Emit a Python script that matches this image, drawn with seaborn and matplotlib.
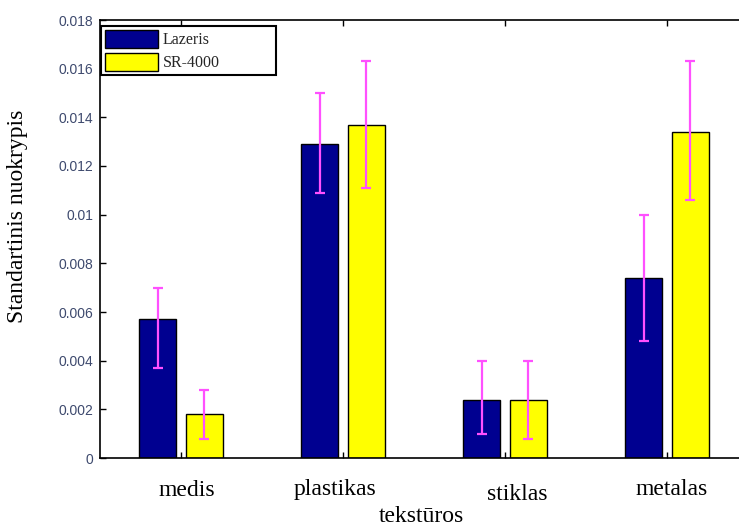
import matplotlib
matplotlib.use("Agg")
import matplotlib.pyplot as plt
import matplotlib.transforms as mtransforms
import seaborn as sns
import pandas as pd
import numpy as np

categories = ["medis", "plastikas", "stiklas", "metalas"]
series = ["Lazeris", "SR-4000"]
lazeris = [0.0057, 0.0129, 0.0024, 0.0074]
sr4000 = [0.0018, 0.0137, 0.0024, 0.0134]
lazeris_low = [0.0037, 0.0109, 0.0010, 0.0048]
lazeris_high = [0.0070, 0.0150, 0.0040, 0.0100]
sr4000_low = [0.0008, 0.0111, 0.0008, 0.0106]
sr4000_high = [0.0028, 0.0163, 0.0040, 0.0163]
yticks = [0, 0.002, 0.004, 0.006, 0.008, 0.01, 0.012, 0.014, 0.016, 0.018]
ytick_labels = ["0", "0.002", "0.004", "0.006", "0.008", "0.01", "0.012", "0.014", "0.016", "0.018"]

df = pd.DataFrame({
    "cat": categories * 2,
    "series": [series[0]] * 4 + [series[1]] * 4,
    "val": lazeris + sr4000,
})

sns.set_theme(style="ticks")
plt.rcParams["font.family"] = ["DejaVu Sans"]

fig = plt.figure(figsize=(7.39, 5.30), dpi=100)
ax = fig.add_axes([100 / 739, 72 / 530, 648 / 739, 438 / 530])

sns.barplot(data=df, x="cat", y="val", hue="series", order=categories,
            hue_order=series, palette=["#000090", "#ffff00"],
            width=0.573, gap=0.2, edgecolor="black", linewidth=1.0,
            saturation=1, errorbar=None, ax=ax)

lows = [lazeris_low, sr4000_low]
highs = [lazeris_high, sr4000_high]
vals = [lazeris, sr4000]
for cont, lo, hi, v in zip(ax.containers, lows, highs, vals):
    xs = [b.get_x() + b.get_width() / 2 for b in cont]
    v = np.array(v)
    yerr = [v - np.array(lo), np.array(hi) - v]
    ax.errorbar(xs, v, yerr=yerr, fmt="none", ecolor="#ff50ff",
                elinewidth=1.6, capsize=3.5, capthick=1.6, zorder=5)

ax.set_xlim(-0.5, 3.5)
ax.set_ylim(0, 0.018)
ax.set_yticks(yticks)
ax.set_yticklabels(ytick_labels, color="#3e4a6e", fontsize=10,
                   family="Liberation Sans")
ax.set_xticks(range(4))
ax.set_xticklabels(categories, family="Liberation Serif", fontsize=17,
                   color="black")
ax.tick_params(axis="both", direction="in", length=4, width=1,
               top=True, right=True, color="black")
ax.tick_params(axis="x", pad=16)
ax.tick_params(axis="y", pad=5)
# small per-label offsets (points) as in the reference layout
offsets = [(4, 0), (-6, 1), (9, -3), (3, 1)]
for lab, (dx, dy) in zip(ax.get_xticklabels(), offsets):
    lab.set_transform(lab.get_transform() +
                      mtransforms.ScaledTranslation(dx / 72, dy / 72,
                                                    fig.dpi_scale_trans))
for s in ax.spines.values():
    s.set_visible(True)
    s.set_linewidth(1.2)
    s.set_color("black")

ax.set_xlabel("tekstūros", family="Liberation Serif", fontsize=17,
              color="black")
ax.xaxis.set_label_coords((421 - 100) / 648, -(517 - 458) / 438)
ax.xaxis.label.set_va("center")
ax.set_ylabel("Standartinis nuokrypis", family="Liberation Serif",
              fontsize=17, color="black")
ax.yaxis.set_label_coords(-(100 - 18) / 648, (458 - 216) / 438)
ax.yaxis.label.set_va("center")

handles, labels = ax.get_legend_handles_labels()
leg = ax.legend(handles, labels, loc="upper left",
                bbox_to_anchor=(1 / 648, (458 - 78) / 438, 175 / 648, 52 / 438),
                mode="expand", frameon=True, fancybox=False,
                prop={"family": "Liberation Serif", "size": 11.5},
                handlelength=3.3, handleheight=1.35, handletextpad=0.3,
                borderpad=0.25, labelspacing=0.3, borderaxespad=0)
leg.get_frame().set_edgecolor("black")
leg.get_frame().set_linewidth(1.5)
leg.get_frame().set_alpha(1)
fig.savefig("out.png", dpi=100)
